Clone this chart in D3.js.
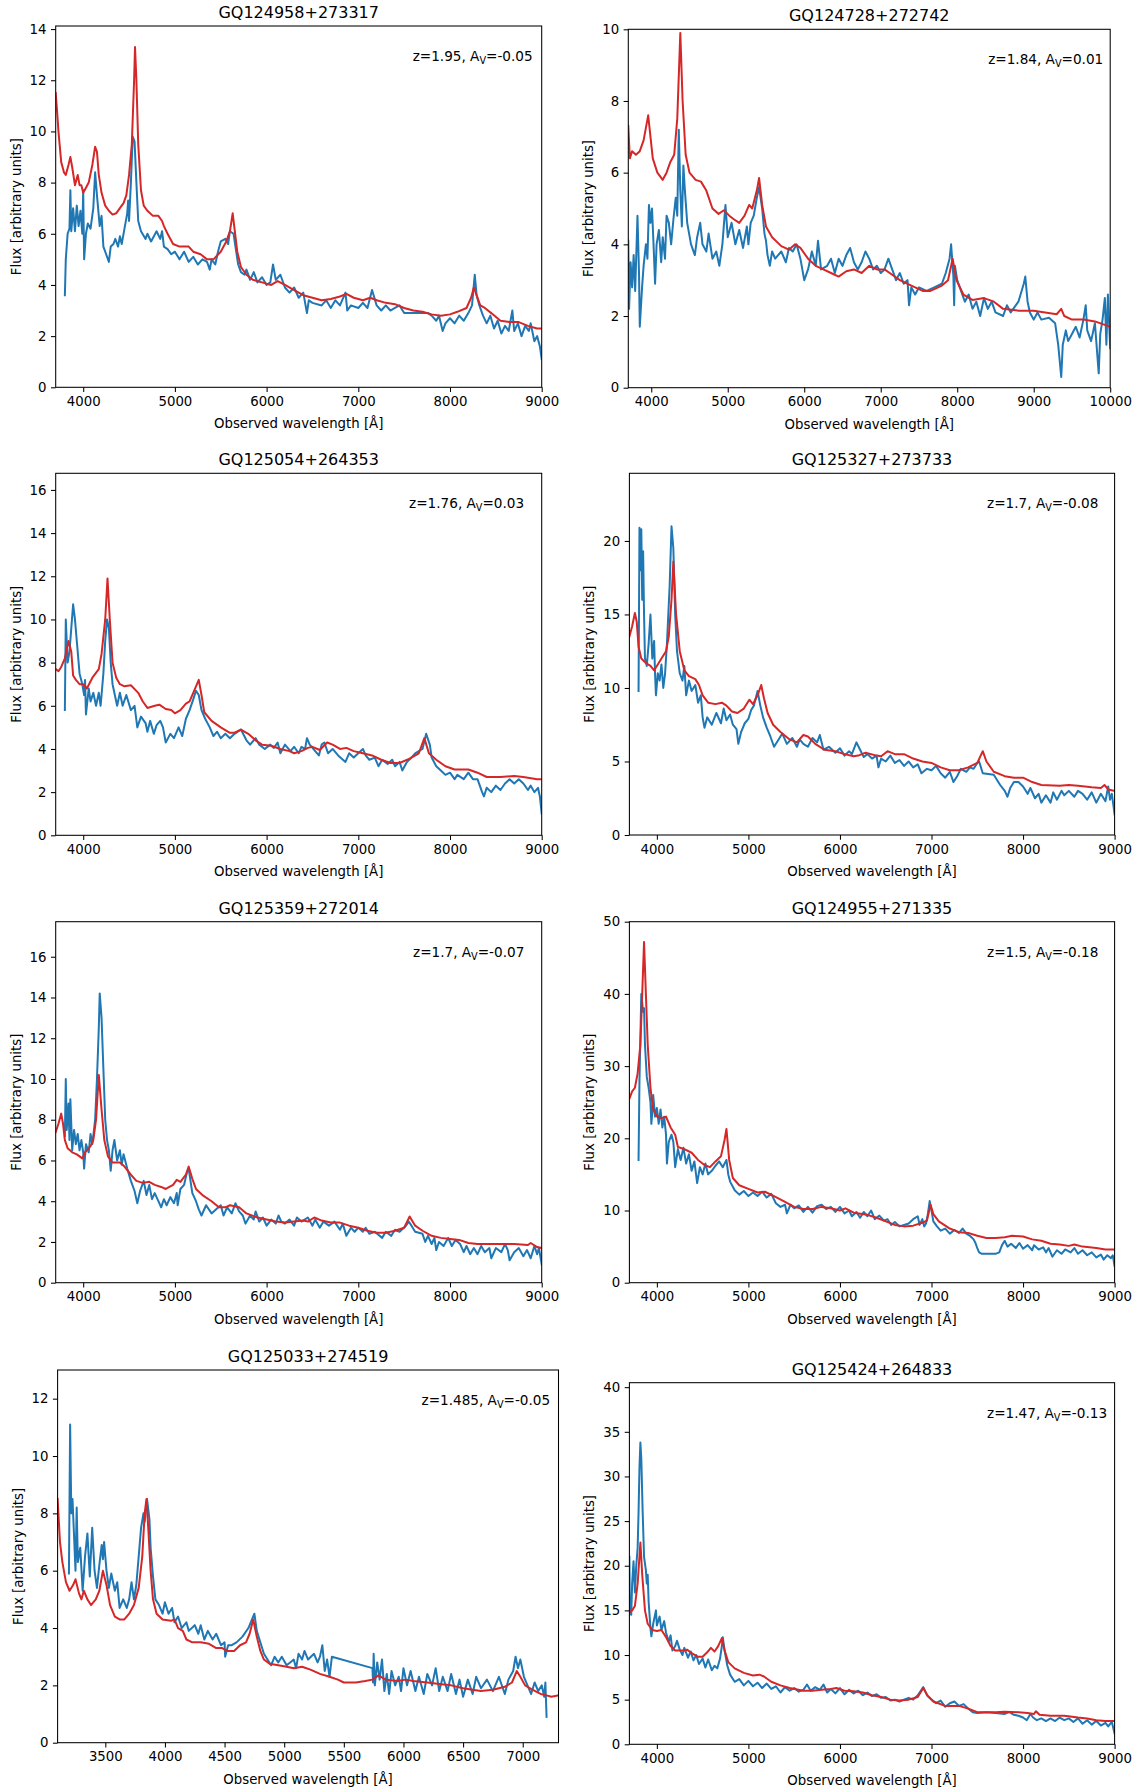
<!DOCTYPE html>
<html><head><meta charset="utf-8">
<script src="https://cdn.jsdelivr.net/npm/d3@7"></script>
<style>
body{margin:0;background:#fff}
svg{display:block}
text{font-family:"DejaVu Sans",sans-serif;fill:#000}
</style>
</head><body>
<svg id="c" width="1141" height="1791"></svg>
<script>
// ---------------- DATA ----------------
const titles = ["GQ124958+273317","GQ124728+272742","GQ125054+264353","GQ125327+273733",
                "GQ125359+272014","GQ124955+271335","GQ125033+274519","GQ125424+264833"];
const redshifts = ["1.95","1.84","1.76","1.7","1.7","1.5","1.485","1.47"];
const extinctions = ["-0.05","0.01","0.03","-0.08","-0.07","-0.18","-0.05","-0.13"];

const xTicksStd = [4000,5000,6000,7000,8000,9000];
const xTicksWide = [4000,5000,6000,7000,8000,9000,10000];
const xTicksBlue = [3500,4000,4500,5000,5500,6000,6500,7000];
const yTicks1 = [0,2,4,6,8,10,12,14];
const yTicks2 = [0,2,4,6,8,10];
const yTicks3 = [0,2,4,6,8,10,12,14,16];
const yTicks4 = [0,5,10,15,20];
const yTicks5 = [0,2,4,6,8,10,12,14,16];
const yTicks6 = [0,10,20,30,40,50];
const yTicks7 = [0,2,4,6,8,10,12];
const yTicks8 = [0,5,10,15,20,25,30,35,40];

// observed spectra [wavelength, flux] (blue) and model fits (red)
const p1Obs = [[3800,3.6],[3810,5.0],[3830,6.0],[3850,6.2],[3860,7.7],[3870,6.1],[3890,7.0],[3910,6.1],[3930,7.1],[3950,6.3],[3970,6.9],[3990,6.0],[4000,7.7],[4010,5.0],[4030,6.0],[4050,6.4],[4080,6.2],[4110,7.0],[4130,8.4],[4150,7.5],[4180,6.3],[4200,6.7],[4220,5.5],[4250,5.2],[4280,4.9],[4300,5.5],[4330,5.6],[4350,5.8],[4380,5.5],[4400,5.9],[4420,5.6],[4450,6.2],[4480,6.8],[4490,7.3],[4500,6.5],[4520,8.0],[4540,9.8],[4560,9.6],[4580,8.0],[4600,6.5],[4630,6.1],[4680,5.8],[4700,6.0],[4740,5.7],[4800,6.1],[4840,5.8],[4860,6.1],[4880,5.5],[4920,5.4],[4960,5.2],[5000,5.3],[5050,5.0],[5100,5.3],[5150,4.9],[5200,5.1],[5250,4.8],[5300,5.0],[5350,4.9],[5380,4.6],[5400,5.0],[5440,4.8],[5470,5.3],[5500,5.7],[5550,5.8],[5580,5.6],[5600,6.1],[5640,6.0],[5660,5.5],[5690,4.8],[5720,4.5],[5760,4.4],[5780,4.6],[5820,4.2],[5860,4.5],[5900,4.1],[5950,4.3],[6000,4.0],[6040,4.1],[6070,4.8],[6100,4.2],[6150,4.4],[6200,3.9],[6250,3.7],[6300,3.9],[6350,3.5],[6400,3.7],[6440,2.9],[6460,3.4],[6500,3.3],[6600,3.2],[6650,3.4],[6700,3.1],[6750,3.4],[6800,3.2],[6860,3.7],[6880,3.0],[6920,3.2],[7000,3.1],[7050,3.3],[7100,3.1],[7150,3.8],[7200,3.2],[7250,3.0],[7300,3.2],[7350,3.0],[7400,3.1],[7450,3.2],[7500,2.9],[7760,2.9],[7800,2.8],[7850,2.6],[7880,2.8],[7920,2.2],[7950,2.5],[8000,2.7],[8050,2.5],[8100,2.8],[8150,2.6],[8200,2.9],[8240,3.2],[8270,4.4],[8290,3.6],[8320,3.2],[8360,2.8],[8400,2.5],[8440,2.8],[8480,2.3],[8520,2.6],[8560,2.1],[8600,2.4],[8640,2.2],[8680,3.0],[8700,2.2],[8740,2.5],[8780,2.0],[8820,2.4],[8860,2.2],[8880,2.5],[8920,1.8],[8950,2.0],[8980,1.6],[9000,1.1]];
const p1Fit = [[3700,11.5],[3715,10.8],[3730,10.0],[3760,8.8],[3790,8.4],[3810,8.3],[3840,8.7],[3860,9.0],[3880,8.6],[3910,7.9],[3940,8.3],[3960,7.9],[3980,7.9],[4000,7.6],[4030,7.8],[4060,8.0],[4100,8.7],[4130,9.4],[4150,9.2],[4170,8.3],[4200,7.6],[4240,7.1],[4280,6.9],[4320,6.75],[4360,6.8],[4400,7.0],[4440,7.2],[4470,7.5],[4500,8.3],[4530,9.5],[4555,12.0],[4565,13.3],[4580,12.0],[4600,9.5],[4630,7.7],[4660,7.1],[4700,6.9],[4760,6.7],[4820,6.7],[4860,6.5],[4880,6.3],[4920,6.0],[4980,5.6],[5050,5.5],[5150,5.5],[5200,5.3],[5280,5.2],[5350,5.0],[5420,5.0],[5500,5.3],[5560,5.7],[5600,6.1],[5630,6.8],[5650,6.2],[5680,5.3],[5720,4.7],[5780,4.4],[5850,4.2],[5950,4.1],[6050,4.0],[6120,4.15],[6200,4.0],[6300,3.8],[6400,3.6],[6500,3.5],[6600,3.4],[6700,3.45],[6800,3.55],[6870,3.65],[6950,3.5],[7050,3.4],[7130,3.5],[7200,3.4],[7300,3.3],[7400,3.25],[7500,3.1],[7600,3.0],[7700,2.95],[7800,2.85],[7900,2.8],[8000,2.85],[8080,2.95],[8180,3.1],[8230,3.5],[8260,3.9],[8290,3.6],[8330,3.2],[8380,3.1],[8450,2.9],[8550,2.6],[8650,2.55],[8750,2.55],[8850,2.4],[8950,2.3],[9000,2.3]];

const p2Obs = [[3700,4.1],[3710,2.2],[3730,3.5],[3750,2.8],[3770,3.7],[3790,2.7],[3820,4.8],[3840,3.2],[3850,1.7],[3880,2.8],[3900,3.4],[3930,4.0],[3950,3.6],[3970,5.1],[3990,4.6],[4010,5.0],[4030,4.0],[4050,2.9],[4070,4.0],[4100,4.4],[4130,3.5],[4150,4.2],[4180,3.6],[4200,4.8],[4230,4.6],[4260,4.0],[4290,4.7],[4320,5.3],[4340,4.8],[4360,7.2],[4380,5.5],[4400,4.5],[4420,6.2],[4440,5.5],[4470,4.6],[4520,4.0],[4570,3.7],[4600,4.2],[4640,4.6],[4670,4.0],[4720,3.8],[4750,4.3],[4800,3.6],[4850,3.8],[4890,3.4],[4930,4.0],[4970,5.1],[5000,4.2],[5050,4.6],[5100,4.0],[5150,4.4],[5200,3.9],[5250,4.5],[5270,4.0],[5300,4.6],[5340,4.8],[5380,5.3],[5410,5.6],[5450,5.0],[5480,4.3],[5500,4.1],[5520,3.7],[5550,3.4],[5580,3.8],[5620,3.6],[5700,3.8],[5760,3.5],[5800,3.9],[5850,3.8],[5900,4.0],[5950,3.6],[6000,3.0],[6050,3.3],[6100,3.8],[6150,3.4],[6180,4.1],[6220,3.3],[6300,3.4],[6350,3.6],[6400,3.2],[6450,3.6],[6500,3.4],[6550,3.7],[6600,3.9],[6650,3.5],[6700,3.3],[6750,3.5],[6800,3.8],[6850,3.6],[6900,3.3],[6950,3.4],[7000,3.2],[7050,3.3],[7100,3.6],[7150,3.3],[7200,3.0],[7250,3.2],[7300,2.9],[7350,3.0],[7370,2.3],[7400,2.8],[7450,2.6],[7500,2.8],[7600,2.7],[7700,2.8],[7800,2.9],[7850,3.2],[7900,3.6],[7920,4.0],[7950,3.1],[7960,2.3],[7970,3.4],[8000,3.0],[8050,2.7],[8100,2.4],[8150,2.6],[8200,2.2],[8250,2.4],[8300,2.0],[8350,2.5],[8400,2.2],[8450,2.4],[8500,2.1],[8600,2.0],[8650,2.3],[8700,2.1],[8800,2.4],[8870,2.9],[8890,3.1],[8920,2.4],[8950,2.1],[9000,1.9],[9050,2.1],[9100,1.9],[9200,1.95],[9280,1.8],[9320,1.2],[9360,0.3],[9380,1.2],[9420,1.6],[9450,1.3],[9500,1.5],[9550,1.7],[9600,1.4],[9650,1.9],[9680,2.3],[9700,1.6],[9750,1.3],[9800,1.8],[9850,0.4],[9870,1.5],[9900,1.9],[9930,2.5],[9950,1.2],[9970,2.6],[10000,1.1]];
const p2Fit = [[3700,7.3],[3720,6.4],[3750,6.6],[3800,6.5],[3850,6.6],[3900,6.9],[3960,7.6],[3990,7.0],[4020,6.4],[4080,6.0],[4150,5.8],[4200,6.0],[4250,6.3],[4300,6.5],[4340,7.5],[4380,9.9],[4410,8.0],[4450,6.5],[4500,6.0],[4580,5.8],[4650,5.75],[4720,5.5],[4800,5.0],[4880,4.85],[4950,4.95],[5020,4.8],[5080,4.7],[5150,4.6],[5220,4.8],[5280,5.1],[5320,5.0],[5380,5.5],[5410,5.85],[5450,5.1],[5500,4.5],[5580,4.2],[5700,3.95],[5800,3.85],[5880,4.0],[5950,3.9],[6050,3.6],[6150,3.4],[6250,3.3],[6350,3.2],[6450,3.1],[6550,3.25],[6650,3.3],[6750,3.2],[6850,3.4],[6950,3.3],[7050,3.3],[7150,3.15],[7250,3.0],[7400,2.85],[7550,2.7],[7650,2.7],[7800,2.85],[7880,3.0],[7940,3.6],[7990,3.0],[8080,2.6],[8200,2.45],[8350,2.5],[8480,2.4],[8600,2.2],[8800,2.15],[9000,2.15],[9150,2.1],[9300,2.05],[9360,2.2],[9400,2.0],[9500,1.9],[9650,1.9],[9800,1.85],[10000,1.7]];

const p3Obs = [[3800,5.8],[3810,10.0],[3830,8.0],[3850,8.5],[3870,9.6],[3890,10.7],[3910,10.0],[3930,9.0],[3960,7.5],[3990,7.0],[4010,6.5],[4020,7.2],[4030,5.6],[4060,6.8],[4080,6.2],[4110,6.6],[4140,6.0],[4170,6.6],[4190,6.0],[4220,7.5],[4240,9.0],[4260,10.0],[4280,9.6],[4300,8.0],[4320,7.0],[4370,6.0],[4400,6.6],[4430,6.0],[4470,6.5],[4520,5.8],[4560,6.0],[4590,5.0],[4630,5.5],[4680,5.2],[4700,4.8],[4730,5.3],[4770,4.7],[4800,5.1],[4840,5.3],[4870,5.0],[4900,4.3],[4950,4.7],[4990,4.5],[5040,5.0],[5080,4.6],[5120,5.4],[5160,5.8],[5200,6.3],[5230,6.7],[5260,6.5],[5290,5.8],[5330,5.4],[5380,5.0],[5420,4.6],[5460,4.8],[5500,4.5],[5550,4.7],[5600,4.5],[5650,4.7],[5720,4.9],[5780,4.4],[5820,4.2],[5880,4.5],[5920,4.2],[5980,4.0],[6040,4.2],[6080,4.05],[6120,4.3],[6150,3.8],[6200,4.2],[6260,3.9],[6300,4.1],[6350,3.8],[6380,4.1],[6420,4.0],[6440,4.5],[6470,4.2],[6530,3.9],[6570,3.7],[6600,4.2],[6630,4.3],[6670,3.8],[6720,4.0],[6780,3.7],[6860,3.4],[6900,3.8],[6950,3.6],[7000,3.8],[7050,4.0],[7080,3.7],[7120,3.5],[7180,3.6],[7220,3.2],[7260,3.5],[7320,3.3],[7370,3.5],[7400,3.2],[7450,3.4],[7480,3.0],[7530,3.4],[7580,3.6],[7620,3.8],[7700,4.0],[7740,4.7],[7780,4.2],[7800,3.6],[7850,3.2],[7900,3.0],[7950,2.8],[8000,2.9],[8050,2.6],[8080,2.8],[8150,2.6],[8200,2.9],[8250,2.6],[8300,2.6],[8350,2.0],[8370,1.8],[8400,2.2],[8450,2.0],[8500,2.3],[8550,2.1],[8600,2.4],[8650,2.6],[8700,2.4],[8750,2.6],[8800,2.4],[8850,2.1],[8880,2.3],[8920,2.0],[8960,2.2],[8980,1.8],[9000,1.0]];
const p3Fit = [[3700,7.7],[3730,7.6],[3760,7.8],[3800,8.2],[3840,9.0],[3870,8.5],[3890,7.4],[3920,7.2],[3960,7.0],[4000,7.0],[4040,6.8],[4100,7.3],[4170,7.7],[4200,8.4],[4240,10.0],[4265,11.9],[4290,10.0],[4320,8.0],[4360,7.3],[4400,7.0],[4450,6.9],[4520,6.95],[4600,6.6],[4650,6.2],[4700,5.9],[4780,6.0],[4830,6.05],[4900,5.85],[4960,5.8],[5000,5.65],[5060,5.8],[5120,6.1],[5160,6.2],[5200,6.6],[5260,7.2],[5290,6.5],[5320,5.7],[5400,5.3],[5500,5.0],[5600,4.75],[5650,4.75],[5720,4.9],[5800,4.7],[5880,4.4],[5950,4.2],[6050,4.15],[6150,4.0],[6250,3.9],[6300,3.8],[6380,3.9],[6450,4.05],[6500,4.1],[6580,3.95],[6660,4.3],[6720,4.2],[6800,4.0],[6870,4.05],[6950,3.9],[7050,3.8],[7150,3.7],[7250,3.5],[7350,3.35],[7450,3.35],[7560,3.55],[7660,3.8],[7720,4.5],[7770,3.8],[7850,3.5],[7950,3.2],[8050,3.05],[8200,3.05],[8300,2.9],[8400,2.7],[8550,2.7],[8700,2.75],[8800,2.7],[8950,2.6],[9000,2.6]];

const p4Obs = [[3800,9.8],[3810,20.9],[3820,18.0],[3830,20.8],[3840,16.0],[3850,19.3],[3860,15.0],[3870,12.0],[3890,11.5],[3910,13.0],[3930,15.0],[3950,12.0],[3970,13.2],[3980,11.0],[3990,9.5],[4010,11.0],[4030,10.5],[4050,11.6],[4070,10.0],[4090,11.0],[4110,13.0],[4140,17.0],[4160,21.0],[4180,19.5],[4200,15.0],[4220,12.5],[4250,11.0],[4280,10.5],[4300,11.5],[4320,9.5],[4350,10.5],[4380,9.8],[4420,10.2],[4450,9.0],[4480,9.5],[4500,8.0],[4520,7.3],[4550,8.0],[4600,7.5],[4650,8.3],[4700,7.6],[4730,8.6],[4760,7.8],[4800,8.2],[4830,7.5],[4870,7.2],[4890,6.2],[4920,7.0],[4960,7.6],[5000,7.9],[5030,8.5],[5060,8.8],[5100,9.8],[5130,8.8],[5160,8.0],[5200,7.3],[5240,6.7],[5280,6.0],[5330,6.5],[5370,6.9],[5420,6.2],[5480,6.6],[5530,6.0],[5560,6.5],[5600,6.2],[5650,6.0],[5700,6.6],[5750,6.3],[5780,6.8],[5820,5.8],[5880,6.0],[5950,5.6],[6000,5.9],[6050,5.4],[6100,5.7],[6130,5.5],[6180,6.3],[6220,5.8],[6260,5.3],[6300,5.5],[6350,5.2],[6400,5.4],[6420,4.6],[6450,5.2],[6500,5.0],[6550,5.4],[6600,4.9],[6650,5.1],[6700,4.7],[6750,5.0],[6800,4.6],[6850,4.8],[6890,4.2],[6950,4.5],[7000,4.4],[7050,4.7],[7100,4.2],[7150,3.9],[7200,4.3],[7240,3.6],[7280,4.0],[7320,4.5],[7380,4.3],[7420,4.6],[7460,4.5],[7500,4.9],[7520,5.0],[7560,4.2],[7680,4.1],[7750,3.4],[7800,3.0],[7830,2.6],[7860,3.2],[7900,3.6],[7950,3.6],[8000,3.3],[8050,2.8],[8080,3.2],[8130,2.5],[8170,2.8],[8200,2.2],[8250,2.7],[8300,2.2],[8330,2.9],[8370,2.4],[8420,3.0],[8450,2.7],[8500,3.0],[8560,2.6],[8600,3.0],[8650,2.8],[8700,2.4],[8750,2.9],[8800,2.2],[8850,2.8],[8900,2.3],[8930,3.3],[8950,2.4],[8970,2.8],[9000,1.4]];
const p4Fit = [[3700,13.5],[3730,14.2],[3760,15.1],[3780,14.5],[3800,12.8],[3830,12.0],[3880,11.7],[3930,11.5],[3970,11.2],[4000,11.5],[4050,12.0],[4100,12.5],[4130,13.5],[4160,16.0],[4180,18.6],[4210,15.0],[4250,12.5],[4300,11.2],[4350,10.8],[4420,10.6],[4460,10.2],[4500,9.5],[4560,9.0],[4640,8.9],[4710,9.0],[4760,8.8],[4820,8.4],[4880,8.3],[4950,8.6],[5010,9.2],[5050,8.9],[5100,9.5],[5140,10.2],[5170,9.3],[5210,8.3],[5270,7.5],[5350,7.0],[5450,6.5],[5530,6.3],[5600,6.8],[5650,6.7],[5730,6.2],[5830,5.8],[5950,5.7],[6050,5.5],[6150,5.35],[6200,5.4],[6280,5.6],[6400,5.4],[6450,5.35],[6520,5.7],[6600,5.5],[6700,5.5],[6800,5.2],[6900,5.0],[7000,4.9],[7100,4.6],[7200,4.4],[7300,4.4],[7400,4.6],[7500,4.9],[7560,5.7],[7600,5.0],[7680,4.3],[7800,4.0],[7900,3.9],[8000,3.9],[8100,3.6],[8200,3.4],[8400,3.35],[8500,3.4],[8600,3.35],[8750,3.25],[8850,3.2],[8890,3.4],[8930,3.1],[9000,3.0]];

const p5Obs = [[3800,7.2],[3810,10.0],[3820,7.5],[3840,8.8],[3850,7.0],[3860,9.0],[3880,6.5],[3900,7.5],[3920,6.8],[3940,7.3],[3960,6.5],[3980,7.0],[4000,6.4],[4010,5.6],[4030,6.8],[4060,6.4],[4080,7.3],[4100,6.8],[4130,8.0],[4150,10.0],[4170,12.5],[4180,14.2],[4200,13.0],[4220,10.5],[4240,8.0],[4260,7.0],[4280,6.5],[4300,5.5],[4320,6.5],[4340,7.0],[4370,6.0],[4400,6.5],[4420,5.8],[4440,6.3],[4480,5.6],[4520,5.0],[4560,4.5],[4590,3.9],[4620,4.5],[4660,5.0],[4690,4.3],[4720,4.8],[4750,4.1],[4780,4.4],[4820,4.0],[4850,3.7],[4880,4.1],[4910,3.8],[4950,4.2],[4990,3.9],[5020,4.4],[5030,3.8],[5060,4.6],[5100,4.8],[5130,5.4],[5150,5.6],[5170,5.0],[5190,4.4],[5230,4.0],[5260,3.6],[5290,3.3],[5340,3.8],[5400,3.4],[5450,3.6],[5500,3.8],[5530,3.3],[5570,3.7],[5620,3.4],[5660,3.9],[5700,3.5],[5740,3.3],[5770,2.9],[5820,3.3],[5860,3.1],[5880,3.5],[5920,3.0],[5960,3.2],[6000,2.8],[6050,3.1],[6100,2.9],[6130,3.3],[6160,3.0],[6200,2.9],[6250,3.1],[6300,2.8],[6330,3.2],[6380,3.0],[6450,3.2],[6500,2.8],[6530,3.1],[6580,2.7],[6620,3.0],[6680,2.8],[6740,3.0],[6800,2.6],[6830,2.9],[6870,2.3],[6920,2.7],[6960,2.5],[7000,2.7],[7050,2.5],[7080,2.7],[7120,2.4],[7180,2.5],[7260,2.2],[7300,2.5],[7360,2.3],[7400,2.6],[7450,2.5],[7520,2.8],[7550,3.0],[7580,2.8],[7620,2.5],[7700,2.4],[7730,2.0],[7760,2.3],[7800,1.9],[7830,2.2],[7850,1.6],[7880,2.0],[7930,1.8],[7980,2.2],[8020,1.8],[8060,2.1],[8110,1.9],[8150,1.5],[8180,1.8],[8220,1.4],[8260,1.7],[8300,1.4],[8340,1.8],[8380,1.5],[8430,1.7],[8450,1.2],[8500,1.7],[8560,1.5],[8600,1.9],[8630,1.6],[8650,1.1],[8700,1.5],[8750,1.7],[8800,1.3],[8840,1.6],[8880,1.2],[8920,1.8],[8950,1.4],[8970,1.7],[9000,0.9]];
const p5Fit = [[3700,7.4],[3730,7.8],[3760,8.3],[3780,7.8],[3800,7.0],[3830,6.6],[3880,6.4],[3930,6.3],[3990,6.1],[4020,6.4],[4080,6.7],[4110,7.0],[4140,8.0],[4170,10.2],[4200,8.5],[4230,7.0],[4270,6.2],[4320,5.9],[4400,5.9],[4450,5.7],[4520,5.3],[4580,5.0],[4650,4.9],[4720,4.95],[4780,4.8],[4850,4.7],[4900,4.6],[4980,4.8],[5020,5.05],[5060,4.95],[5120,5.3],[5150,5.7],[5190,5.1],[5230,4.6],[5300,4.3],[5400,4.0],[5480,3.7],[5550,3.7],[5600,3.8],[5700,3.7],[5780,3.4],[5900,3.2],[6000,3.1],[6100,3.0],[6200,2.95],[6300,3.0],[6400,3.05],[6450,3.0],[6520,3.2],[6600,3.05],[6700,2.95],[6800,2.95],[6900,2.8],[7000,2.7],[7100,2.55],[7200,2.45],[7300,2.45],[7400,2.55],[7500,2.7],[7560,3.25],[7620,2.8],[7700,2.55],[7800,2.3],[7900,2.2],[8000,2.15],[8100,2.1],[8200,1.95],[8300,1.9],[8500,1.9],[8700,1.9],[8850,1.85],[8880,1.95],[8950,1.75],[9000,1.7]];

const p6Obs = [[3800,17.0],[3810,28.0],[3830,40.0],[3850,37.5],[3860,38.0],[3870,33.0],[3890,28.5],[3910,27.0],[3930,25.0],[3940,22.0],[3950,23.5],[3960,26.0],[3980,23.0],[4000,24.2],[4020,22.0],[4040,24.0],[4060,21.5],[4080,23.0],[4100,20.5],[4110,16.5],[4130,19.5],[4160,20.5],[4180,19.5],[4200,16.0],[4230,18.5],[4260,17.0],[4290,18.7],[4320,16.5],[4350,17.8],[4380,15.5],[4410,16.8],[4440,13.8],[4470,16.0],[4500,15.0],[4530,16.5],[4560,15.0],[4600,15.5],[4640,16.2],[4680,16.8],[4720,16.0],[4760,17.0],[4780,15.0],[4800,14.0],[4850,12.8],[4900,12.2],[4950,12.7],[5000,12.0],[5050,12.5],[5100,12.0],[5150,12.6],[5200,11.8],[5250,12.3],[5300,11.0],[5350,10.5],[5400,10.8],[5420,9.6],[5460,10.8],[5500,10.3],[5550,10.7],[5600,9.8],[5650,10.5],[5700,9.7],[5750,10.6],[5800,10.8],[5850,10.2],[5900,10.5],[5950,9.8],[6000,10.5],[6050,9.6],[6100,10.0],[6130,9.2],[6180,9.8],[6220,9.0],[6260,9.8],[6300,9.2],[6340,10.0],[6380,8.8],[6430,9.3],[6480,8.6],[6520,8.8],[6560,8.0],[6600,8.4],[6650,7.8],[6700,8.0],[6750,8.2],[6800,8.8],[6850,9.2],[6870,8.0],[6900,8.8],[6920,7.8],[6940,8.2],[6960,9.5],[6980,11.3],[7000,10.0],[7020,8.5],[7060,7.8],[7100,7.2],[7150,7.5],[7200,6.8],[7250,7.3],[7300,6.9],[7340,7.5],[7380,6.8],[7420,6.5],[7460,6.0],[7480,5.5],[7500,4.8],[7520,4.2],[7550,4.0],[7700,4.0],[7740,4.2],[7770,5.2],[7800,5.8],[7830,5.0],[7870,5.4],[7920,4.8],[7960,5.5],[8000,4.7],[8050,5.2],[8100,4.5],[8120,5.2],[8170,4.6],[8220,4.9],[8250,4.2],[8280,4.8],[8320,3.6],[8370,4.5],[8420,4.0],[8460,4.6],[8520,4.2],[8560,4.8],[8600,4.0],[8650,4.5],[8700,3.8],[8750,4.2],[8800,3.5],[8850,3.9],[8880,3.2],[8920,3.8],[8960,3.4],[8980,3.8],[9000,2.3]];
const p6Fit = [[3700,25.5],[3730,26.5],[3760,27.0],[3790,29.0],[3820,33.0],[3840,40.0],[3860,47.2],[3880,40.0],[3900,33.0],[3930,27.0],[3960,24.0],[4000,23.0],[4050,22.8],[4100,23.0],[4150,21.5],[4200,20.5],[4230,18.8],[4300,18.5],[4380,18.0],[4450,17.0],[4520,16.3],[4580,16.0],[4640,16.8],[4700,17.5],[4740,19.8],[4760,21.3],[4790,17.0],[4830,14.5],[4900,13.5],[5000,13.0],[5100,12.5],[5180,12.6],[5280,12.0],[5400,11.2],[5500,10.5],[5600,10.2],[5700,10.2],[5800,10.5],[5900,10.3],[6000,10.0],[6060,10.3],[6150,9.7],[6300,9.4],[6400,9.0],[6500,8.5],[6600,8.0],[6700,7.8],[6800,7.9],[6900,8.3],[6950,8.6],[6990,10.8],[7020,9.5],[7080,8.5],[7200,7.5],[7300,7.0],[7400,6.9],[7500,6.5],[7600,6.2],[7700,6.2],[7800,6.3],[7880,6.5],[8000,6.4],[8100,6.0],[8200,5.8],[8300,5.4],[8400,5.3],[8500,5.1],[8560,5.3],[8650,5.0],[8800,4.8],[8900,4.6],[9000,4.6]];

const p7Obs = [[3195,5.9],[3205,11.1],[3215,8.0],[3225,8.5],[3240,7.0],[3250,6.0],[3260,8.2],[3270,6.3],[3290,6.8],[3310,5.3],[3330,6.5],[3350,7.3],[3370,5.8],[3390,7.5],[3410,6.0],[3430,5.4],[3450,6.2],[3470,6.9],[3480,6.4],[3490,7.0],[3510,6.0],[3530,5.4],[3550,5.9],[3580,5.3],[3600,5.6],[3620,4.7],[3650,5.0],[3680,4.7],[3700,5.0],[3720,5.6],[3740,5.0],[3760,5.5],[3780,6.5],[3800,7.5],[3820,8.0],[3830,7.7],[3850,8.5],[3870,7.8],[3880,6.8],[3900,5.8],[3920,5.0],[3950,4.8],[3980,4.5],[4000,4.9],[4030,4.5],[4060,4.7],[4080,4.2],[4110,4.4],[4140,4.0],[4180,4.2],[4200,3.9],[4250,4.1],[4280,3.8],[4300,4.1],[4330,3.6],[4360,3.9],[4400,3.6],[4430,3.8],[4470,3.4],[4500,3.5],[4505,3.0],[4530,3.4],[4560,3.4],[4600,3.5],[4650,3.7],[4700,4.0],[4730,4.3],[4750,4.5],[4770,3.9],[4800,3.5],[4830,3.1],[4860,2.9],[4890,2.7],[4920,3.0],[4950,2.8],[4980,3.0],[5020,2.7],[5050,2.8],[5080,2.9],[5100,2.6],[5120,3.1],[5150,2.9],[5170,3.2],[5200,2.9],[5250,3.1],[5280,2.8],[5300,3.0],[5320,3.4],[5340,2.5],[5360,2.9],[5380,2.3],[5400,3.0],[5740,2.6],[5745,2.1],[5750,3.1],[5760,2.0],[5780,2.8],[5800,2.2],[5820,2.9],[5840,1.8],[5860,2.4],[5880,1.7],[5900,2.5],[5930,2.0],[5960,2.3],[5980,1.8],[6000,2.6],[6030,2.0],[6060,2.5],[6100,1.8],[6130,2.3],[6170,1.7],[6200,2.4],[6240,2.0],[6270,2.6],[6300,1.8],[6330,2.3],[6370,1.8],[6400,2.4],[6440,1.7],[6470,2.2],[6500,1.6],[6540,2.2],[6580,1.7],[6610,2.3],[6650,1.9],[6700,2.2],[6750,1.8],[6800,2.3],[6850,1.7],[6880,2.2],[6920,2.5],[6940,3.0],[6960,2.6],[6980,2.9],[7010,2.3],[7040,2.0],[7070,1.7],[7100,2.1],[7130,1.8],[7160,2.0],[7180,1.6],[7190,2.1],[7200,0.9]];
const p7Fit = [[3100,8.5],[3120,7.0],[3140,6.3],[3170,5.6],[3200,5.3],[3230,5.5],[3250,5.7],[3280,5.2],[3300,5.0],[3320,5.3],[3350,5.0],[3380,4.8],[3420,5.0],[3450,5.3],[3480,6.0],[3510,5.5],[3540,4.8],[3580,4.4],[3620,4.3],[3660,4.3],[3700,4.5],[3740,4.8],[3780,5.4],[3810,6.5],[3830,8.0],[3845,8.5],[3860,7.5],[3880,6.0],[3900,5.0],[3930,4.5],[3980,4.3],[4050,4.25],[4080,4.3],[4110,4.0],[4150,3.9],[4180,3.6],[4230,3.5],[4300,3.5],[4370,3.45],[4430,3.3],[4480,3.3],[4520,3.2],[4580,3.2],[4630,3.4],[4680,3.5],[4710,3.8],[4740,4.3],[4770,3.7],[4800,3.2],[4830,2.9],[4880,2.75],[4950,2.7],[5020,2.65],[5080,2.6],[5150,2.65],[5220,2.55],[5300,2.4],[5380,2.3],[5450,2.2],[5500,2.1],[5600,2.1],[5680,2.15],[5740,2.2],[5790,2.35],[5850,2.2],[5950,2.15],[6020,2.2],[6080,2.15],[6200,2.1],[6300,2.05],[6400,2.0],[6500,1.9],[6580,1.85],[6650,1.8],[6750,1.85],[6850,1.95],[6910,2.1],[6950,2.5],[6980,2.3],[7020,2.0],[7080,1.85],[7150,1.7],[7200,1.65],[7240,1.6],[7300,1.65]];

const p8Obs = [[3700,21.0],[3705,15.0],[3720,14.5],[3730,18.0],[3745,20.5],[3760,17.0],[3775,20.0],[3790,22.0],[3800,26.0],[3810,31.0],[3820,33.8],[3830,32.0],[3845,26.0],[3860,21.0],[3880,19.5],[3890,18.0],[3900,19.0],[3910,16.0],[3930,13.0],[3940,12.1],[3960,13.5],[3990,15.0],[4000,13.3],[4030,14.3],[4050,12.8],[4080,13.8],[4100,12.5],[4130,11.5],[4150,12.2],[4170,10.5],[4200,11.0],[4220,11.6],[4250,10.6],[4280,10.0],[4300,10.8],[4340,9.7],[4370,10.4],[4400,9.4],[4430,10.0],[4460,9.0],[4500,9.6],[4530,8.6],[4560,9.5],[4600,8.3],[4630,8.8],[4660,8.5],[4690,9.6],[4710,11.0],[4720,12.0],[4740,10.5],[4770,8.8],[4800,7.8],[4850,7.0],[4900,7.3],[4950,6.6],[5000,7.1],[5050,6.5],[5100,6.9],[5150,6.3],[5200,6.8],[5250,6.2],[5300,6.5],[5350,5.8],[5400,6.4],[5450,6.0],[5500,6.3],[5550,5.9],[5600,6.1],[5640,6.7],[5680,6.0],[5730,6.4],[5780,6.1],[5820,6.7],[5860,5.8],[5900,6.2],[5950,5.7],[6000,6.3],[6050,5.6],[6100,6.1],[6150,5.7],[6200,6.0],[6250,5.5],[6300,5.8],[6350,5.4],[6400,5.6],[6450,5.2],[6500,5.3],[6550,4.9],[6600,5.0],[6650,4.8],[6700,5.0],[6750,5.2],[6800,5.0],[6850,5.5],[6910,6.4],[6950,5.5],[7000,5.0],[7050,4.6],[7100,4.9],[7150,4.2],[7200,4.6],[7250,4.8],[7300,4.3],[7350,4.5],[7400,4.0],[7450,3.6],[7500,3.5],[7600,3.6],[7700,3.5],[7800,3.4],[7850,3.6],[7900,3.3],[7950,3.2],[8000,3.0],[8040,2.7],[8080,3.4],[8110,3.0],[8150,2.7],[8200,2.9],[8250,2.6],[8300,2.9],[8350,2.6],[8400,3.0],[8450,2.7],[8500,2.9],[8550,2.5],[8600,2.9],[8650,2.3],[8700,2.7],[8750,2.2],[8800,2.6],[8850,2.1],[8900,2.4],[8930,2.0],[8970,2.5],[9000,1.2]];
const p8Fit = [[3700,14.8],[3730,15.0],[3760,15.5],[3790,18.0],[3820,22.6],[3840,19.0],[3870,15.0],[3900,13.5],[3950,12.8],[4000,12.7],[4050,12.8],[4100,12.0],[4150,11.0],[4200,10.5],[4280,10.5],[4330,10.6],[4380,10.2],[4450,9.8],[4500,9.8],[4550,10.3],[4590,10.8],[4630,10.4],[4670,11.0],[4710,11.9],[4740,10.5],[4780,9.2],[4850,8.5],[4950,8.0],[5050,7.7],[5120,7.8],[5170,7.6],[5250,7.0],[5350,6.6],[5450,6.3],[5600,6.0],[5700,6.0],[5800,6.1],[5900,6.2],[5960,6.3],[6050,6.0],[6150,5.95],[6250,5.8],[6350,5.5],[6450,5.3],[6550,5.0],[6650,4.9],[6750,5.0],[6850,5.3],[6910,6.3],[6960,5.4],[7020,4.8],[7150,4.3],[7300,4.3],[7400,4.0],[7500,3.6],[7700,3.6],[7800,3.65],[7950,3.6],[8050,3.5],[8120,3.4],[8140,3.7],[8180,3.3],[8300,3.2],[8450,3.2],[8600,3.0],[8700,2.9],[8800,2.7],[8900,2.6],[9000,2.6]];

// ---------------- LAYOUT ----------------
const panels = [
  {obs:p1Obs, fit:p1Fit, xd:[3700,9000],  yd:[0,14.12], xt:xTicksStd,  yt:yTicks1, l:55.7,  r:541.7,  t:26,     b:387.3,  nx:412.7},
  {obs:p2Obs, fit:p2Fit, xd:[3700,10000], yd:[0,10],    xt:xTicksWide, yt:yTicks2, l:628.3, r:1110.2, t:29.3,   b:387.7,  nx:988.2},
  {obs:p3Obs, fit:p3Fit, xd:[3700,9000],  yd:[0,16.77], xt:xTicksStd,  yt:yTicks3, l:55.7,  r:541.7,  t:473.3,  b:835.3,  nx:409.1},
  {obs:p4Obs, fit:p4Fit, xd:[3700,9000],  yd:[0,24.6],  xt:xTicksStd,  yt:yTicks4, l:629.4, r:1114.6, t:473.3,  b:835.0,  nx:987.1},
  {obs:p5Obs, fit:p5Fit, xd:[3700,9000],  yd:[0,17.72], xt:xTicksStd,  yt:yTicks5, l:55.7,  r:541.7,  t:921.7,  b:1282.7, nx:413.0},
  {obs:p6Obs, fit:p6Fit, xd:[3700,9000],  yd:[0,50],    xt:xTicksStd,  yt:yTicks6, l:629.4, r:1114.6, t:921.7,  b:1282.7, nx:987.1},
  {obs:p7Obs, fit:p7Fit, xd:[3100,7300],  yd:[0,13.0],  xt:xTicksBlue, yt:yTicks7, l:57.6,  r:558.5,  t:1370,   b:1742.7, nx:421.5},
  {obs:p8Obs, fit:p8Fit, xd:[3700,9000],  yd:[0,40.5],  xt:xTicksStd,  yt:yTicks8, l:629.4, r:1114.6, t:1382.7, b:1744.3, nx:987.1}
];

const svg = d3.select("#c");
const defs = svg.append("defs");

panels.forEach((p, i) => {
  const x = d3.scaleLinear().domain(p.xd).range([p.l, p.r]);
  const y = d3.scaleLinear().domain(p.yd).range([p.b, p.t]);
  const g = svg.append("g");

  defs.append("clipPath").attr("id", "clip" + i)
    .append("rect").attr("x", p.l).attr("y", p.t).attr("width", p.r - p.l).attr("height", p.b - p.t);

  const line = d3.line().x(d => x(d[0])).y(d => y(d[1]));
  const plot = g.append("g").attr("clip-path", `url(#clip${i})`);
  plot.append("path").datum(p.obs).attr("d", line)
    .attr("fill", "none").attr("stroke", "#1f77b4").attr("stroke-width", 2)
    .attr("stroke-linejoin", "round").attr("stroke-linecap", "square");
  plot.append("path").datum(p.fit).attr("d", line)
    .attr("fill", "none").attr("stroke", "#d62728").attr("stroke-width", 2)
    .attr("stroke-linejoin", "round").attr("stroke-linecap", "square");

  const xa = g.append("g").attr("transform", `translate(0,${p.b})`)
    .call(d3.axisBottom(x).tickValues(p.xt).tickSize(4.7).tickSizeOuter(0).tickPadding(4.5).tickFormat(d3.format("d")));
  const ya = g.append("g").attr("transform", `translate(${p.l},0)`)
    .call(d3.axisLeft(y).tickValues(p.yt).tickSize(4.7).tickSizeOuter(0).tickPadding(4.5).tickFormat(d3.format("d")));
  [xa, ya].forEach(a => {
    a.attr("font-family", null).attr("font-size", null);
    a.select(".domain").remove();
    a.selectAll(".tick line").attr("stroke", "#000").attr("stroke-width", 1.05);
    a.selectAll(".tick text").style("font-size", "13.3px").attr("fill", "#000");
  });

  g.append("rect").attr("x", p.l).attr("y", p.t).attr("width", p.r - p.l).attr("height", p.b - p.t)
    .attr("fill", "none").attr("stroke", "#000").attr("stroke-width", 1.05);

  g.append("text").attr("x", (p.l + p.r) / 2).attr("y", p.t - 8)
    .attr("text-anchor", "middle").style("font-size", "16px").text(titles[i]);

  g.append("text").attr("x", (p.l + p.r) / 2).attr("y", p.b + 41)
    .attr("text-anchor", "middle").style("font-size", "13.3px").text("Observed wavelength [Å]");

  g.append("text").attr("transform", `translate(${p.l - 35},${(p.t + p.b) / 2}) rotate(-90)`)
    .attr("text-anchor", "middle").style("font-size", "13.3px").text("Flux [arbitrary units]");

  const note = g.append("text").attr("x", p.nx).attr("y", p.t + 35).style("font-size", "13.6px");
  note.append("tspan").text(`z=${redshifts[i]}, A`);
  note.append("tspan").attr("dy", 3).style("font-size", "9.7px").text("V");
  note.append("tspan").attr("dy", -3).text(`=${extinctions[i]}`);
});
</script>
</body></html>
